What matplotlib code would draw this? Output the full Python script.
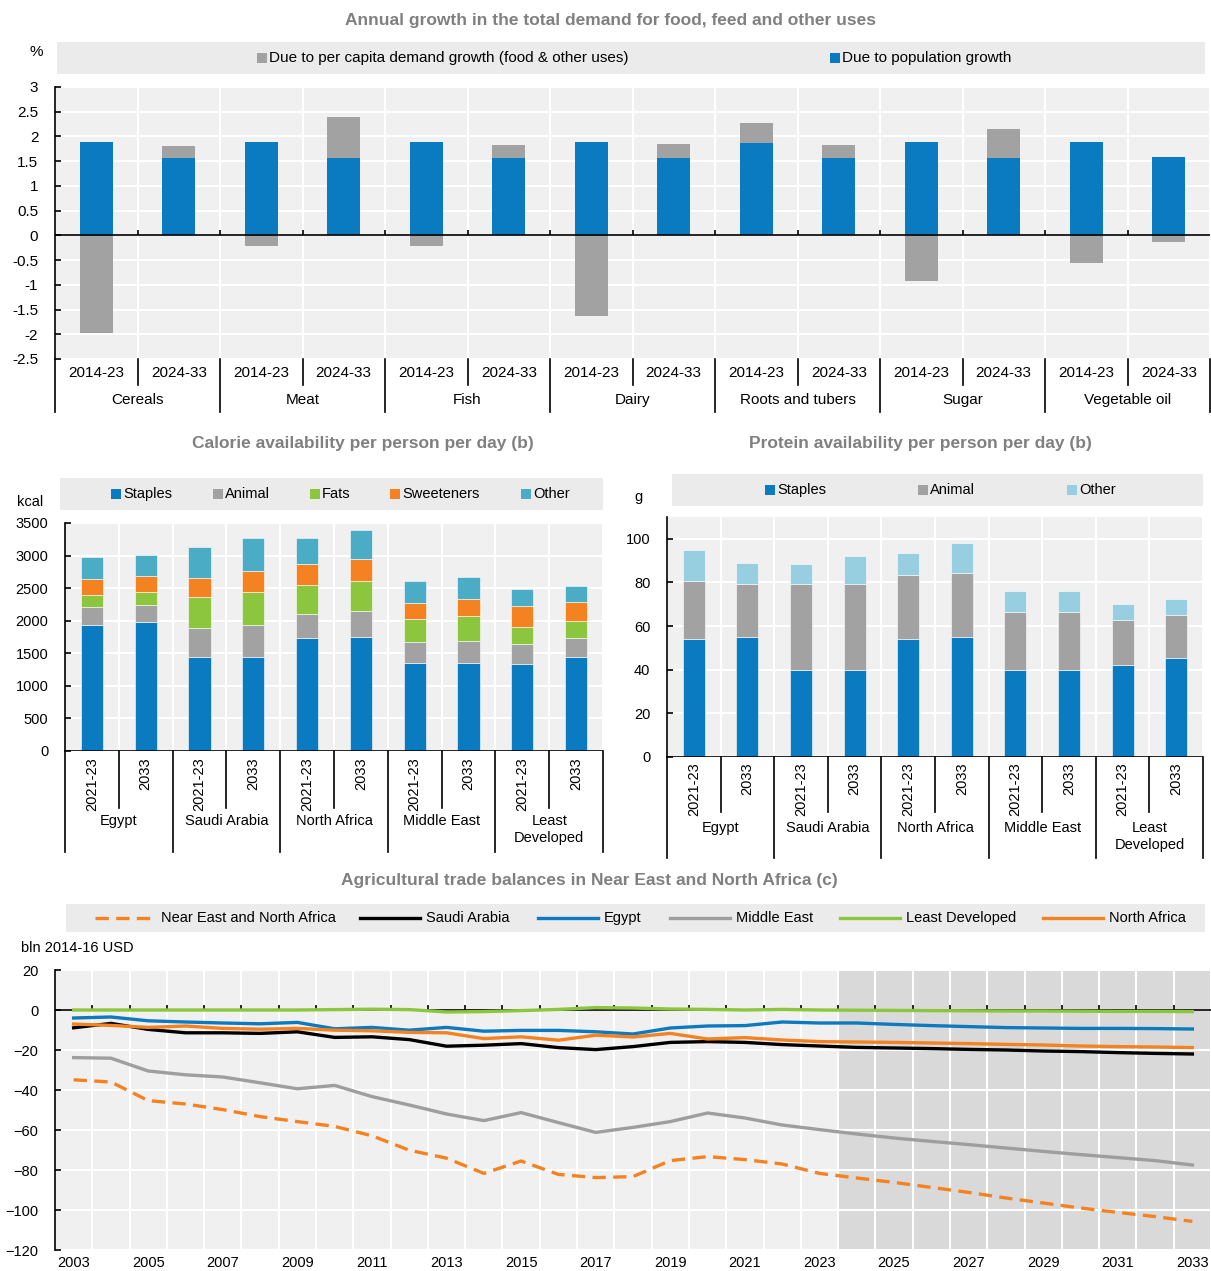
import matplotlib.pyplot as plt
from matplotlib.patches import Rectangle
from matplotlib.lines import Line2D
import numpy as np

plt.rcParams['font.family'] = ['Liberation Sans', 'DejaVu Sans']

W, H = 1211, 1271

BLUE = '#0a7bc1'
GREY = '#a2a2a2'
GREEN = '#8cc63f'
ORANGE = '#f58220'
TEAL = '#4bacc6'
LIGHTBLUE = '#97cfe0'
BG = '#f0f0f0'
BOXBG = '#ebebeb'
TITLE_C = '#808080'

# --- annual demand growth (%), two periods per commodity
products = ['Cereals', 'Meat', 'Fish', 'Dairy', 'Roots and tubers', 'Sugar', 'Vegetable oil']
periods = ['2014-23', '2024-33']
growth_series = ['Due to per capita demand growth (food & other uses)', 'Due to population growth']
pop_growth = [1.88, 1.57, 1.88, 1.57, 1.88, 1.57, 1.88, 1.57, 1.87, 1.57, 1.88, 1.57, 1.88, 1.59]
per_capita = [-1.97, 0.24, -0.21, 0.82, -0.21, 0.26, -1.64, 0.27, 0.41, 0.25, -0.92, 0.58, -0.56, -0.14]

# --- calorie / protein availability
regions = ['Egypt', 'Saudi Arabia', 'North Africa', 'Middle East', 'Least\nDeveloped']
years = ['2021-23', '2033']
cal_groups = ['Staples', 'Animal', 'Fats', 'Sweeteners', 'Other']
cal_staples = [1935, 1981, 1442, 1442, 1729, 1750, 1345, 1350, 1329, 1442]
cal_animal = [272, 267, 452, 488, 380, 405, 323, 338, 318, 287]
cal_fats = [184, 190, 467, 508, 442, 452, 364, 380, 257, 262]
cal_sweet = [247, 256, 302, 323, 318, 339, 247, 272, 328, 298]
cal_other = [339, 308, 467, 508, 400, 451, 328, 329, 257, 246]

prot_groups = ['Staples', 'Animal', 'Other']
prot_staples = [53.9, 55.0, 39.8, 39.8, 53.9, 55.0, 39.8, 39.8, 42.1, 45.5]
prot_animal = [26.6, 24.5, 39.3, 39.7, 29.3, 29.3, 26.5, 26.5, 20.5, 19.7]
prot_other = [14.5, 9.5, 9.3, 12.4, 10.5, 13.6, 9.7, 9.7, 7.6, 7.0]

# --- agricultural trade balances, bln 2014-16 USD
trade_years = list(range(2003, 2034))
nena = [-34.9, -36.0, -45.3, -47.0, -49.8, -53.3, -55.8, -58.2, -62.9, -70.1, -74.1,
        -81.7, -75.5, -82.2, -83.8, -83.3, -75.3, -73.3, -74.8, -77.0, -81.7, -84.0,
        -86.2, -88.7, -91.2, -94.0, -96.5, -99.0, -101.2, -103.3, -105.7]
saudi = [-8.9, -6.7, -9.7, -11.4, -11.4, -11.7, -10.9, -13.7, -13.4, -14.8, -18.1,
         -17.6, -16.8, -18.8, -19.8, -18.3, -16.2, -15.8, -16.2, -17.3, -18.0, -18.7,
         -19.0, -19.3, -19.7, -20.0, -20.5, -20.8, -21.3, -21.7, -22.0]
egypt = [-4.0, -3.5, -5.4, -6.0, -6.5, -6.9, -6.2, -9.4, -8.7, -10.1, -8.7,
         -10.6, -10.2, -10.2, -10.9, -12.0, -9.0, -8.0, -7.8, -6.0, -6.5, -6.5,
         -7.2, -7.8, -8.3, -8.8, -9.0, -9.2, -9.2, -9.3, -9.5]
mideast = [-23.8, -24.1, -30.5, -32.4, -33.5, -36.4, -39.4, -37.7, -43.3, -47.5, -52.0,
           -55.3, -51.3, -56.3, -61.2, -58.7, -55.8, -51.5, -54.0, -57.5, -59.8, -62.0,
           -64.0, -65.7, -67.3, -69.0, -70.7, -72.3, -73.8, -75.3, -77.5]
least_dev = [0.0, 0.0, 0.0, 0.0, 0.0, 0.0, 0.0, 0.2, 0.4, 0.2, -1.0,
             -0.8, -0.3, 0.3, 1.2, 1.0, 0.5, 0.3, 0.0, 0.3, 0.0, -0.1,
             -0.2, -0.3, -0.4, -0.5, -0.5, -0.6, -0.7, -0.7, -0.8]
north_africa = [-7.0, -7.7, -8.7, -8.0, -9.2, -9.6, -9.2, -10.1, -10.4, -11.2, -11.4,
                -14.3, -13.4, -15.1, -12.6, -13.5, -11.7, -14.5, -13.8, -15.0, -15.8, -16.0,
                -16.2, -16.5, -16.8, -17.2, -17.5, -18.0, -18.3, -18.5, -18.8]
trade_names = ['Near East and North Africa', 'Saudi Arabia', 'Egypt', 'Middle East',
               'Least Developed', 'North Africa']

FS = 10.5      # general text size
TITLE_FS = 12.5


def fx(x):
    return x / W


def fy(y):
    return 1 - y / H


def px_axes(fig, x0, y0, x1, y1):
    return fig.add_axes([fx(x0), fy(y1), fx(x1) - fx(x0), fy(y0) - fy(y1)])


def style_axes(ax):
    ax.set_facecolor(BG)
    for s in ['top', 'right', 'bottom']:
        ax.spines[s].set_visible(False)
    ax.spines['left'].set_linewidth(1.2)
    ax.grid(True, color='white', linewidth=1.5)
    ax.set_axisbelow(True)
    ax.tick_params(axis='y', direction='in', length=4, width=1.2, labelsize=FS, pad=12)
    ax.tick_params(axis='x', length=0, labelbottom=False)


def zero_ticks(ax, positions, length):
    # small marks sitting on the zero line at the category boundaries
    ax.vlines(positions, 0, length, color='black', linewidth=1.2, zorder=3)


def legend_box(fig, x0, y0, x1, y1):
    fig.patches.append(Rectangle((fx(x0), fy(y1)), fx(x1) - fx(x0), fy(y0) - fy(y1),
                                 transform=fig.transFigure, facecolor=BOXBG,
                                 edgecolor='none', zorder=0))


def legend_square(fig, x, y, color, label, fs=FS):
    fig.patches.append(Rectangle((fx(x), fy(y + 5)), fx(10), 10 / H,
                                 transform=fig.transFigure, facecolor=color,
                                 edgecolor='none'))
    fig.text(fx(x + 12), fy(y), label, fontsize=fs, va='center', ha='left')


def category_labels(ax, n_groups, inner, groups, h_px, inner_rot=0, inner_y=10,
                    sep_inner=26, sep_outer=53, group_y=41, fs=FS):
    tr = ax.get_xaxis_transform()
    n = n_groups * len(inner)
    for i in range(n):
        ax.text(i, -inner_y / h_px, inner[i % len(inner)], transform=tr,
                ha='center', va='top', rotation=inner_rot, fontsize=fs)
    for b in range(n + 1):
        depth = sep_outer if b % len(inner) == 0 else sep_inner
        ax.add_line(Line2D([b - 0.5, b - 0.5], [0, -depth / h_px], transform=tr,
                           color='black', linewidth=1.2, clip_on=False))
    for g in range(n_groups):
        c = g * len(inner) + (len(inner) - 1) / 2
        ax.text(c, -group_y / h_px, groups[g], transform=tr, ha='center', va='top',
                fontsize=fs, linespacing=1.3)


fig = plt.figure(figsize=(W / 100, H / 100), dpi=100)

# ================= top: demand growth =================
ax1 = px_axes(fig, 55, 87, 1210, 359)
style_axes(ax1)
ax1.tick_params(axis='y', labelsize=11)
n1 = len(pop_growth)
x1 = np.arange(n1)
pc = np.array(per_capita)
pop = np.array(pop_growth)
pc_bottom = np.where(pc > 0, pop, 0)
ax1.bar(x1, pop, width=0.4, color=BLUE, zorder=2)
ax1.bar(x1, pc, bottom=pc_bottom, width=0.4, color=GREY, zorder=2)
ax1.set_xlim(-0.5, n1 - 0.5)
ax1.set_ylim(-2.5, 3)
ax1.set_yticks(np.arange(-2.5, 3.01, 0.5))
ax1.set_yticklabels([f'{v:g}' for v in np.arange(-2.5, 3.01, 0.5)])
ax1.set_xticks(np.arange(n1 + 1) - 0.5)
ax1.axhline(0, color='black', linewidth=1.2, zorder=3)
zero_ticks(ax1, np.arange(1, n1) - 0.5, 0.1)
category_labels(ax1, len(products), periods, products, 272, inner_y=7,
                sep_inner=26, sep_outer=53, group_y=34, fs=11)
fig.text(fx(610), fy(20), 'Annual growth in the total demand for food, feed and other uses',
         ha='center', va='center', fontsize=TITLE_FS, fontweight='bold', color=TITLE_C)
legend_box(fig, 57, 42, 1205, 74)
legend_square(fig, 257, 58, GREY, growth_series[0], fs=11)
legend_square(fig, 830, 58, BLUE, growth_series[1], fs=11)
fig.text(fx(29), fy(52), '%', fontsize=11, va='center')

# ================= middle left: calories =================
ax2 = px_axes(fig, 65, 523, 603, 751)
style_axes(ax2)
x2 = np.arange(len(cal_staples))
bottom = np.zeros(len(x2))
for vals, col in zip([cal_staples, cal_animal, cal_fats, cal_sweet, cal_other],
                     [BLUE, GREY, GREEN, ORANGE, TEAL]):
    ax2.bar(x2, vals, bottom=bottom, width=0.41, color=col, zorder=2,
            edgecolor='white', linewidth=0.4)
    bottom += np.array(vals)
ax2.set_xlim(-0.5, len(x2) - 0.5)
ax2.set_ylim(0, 3500)
ax2.set_yticks(np.arange(0, 3501, 500))
ax2.set_xticks(np.arange(len(x2) + 1) - 0.5)
ax2.axhline(0, color='black', linewidth=1.2, zorder=3)
category_labels(ax2, len(regions), years, regions, 228, inner_rot=90, inner_y=6,
                sep_inner=57, sep_outer=101, group_y=63)
fig.text(fx(363), fy(443), 'Calorie availability per person per day (b)',
         ha='center', va='center', fontsize=TITLE_FS, fontweight='bold', color=TITLE_C)
legend_box(fig, 60, 478, 603, 510)
for lx, col, lab in zip([111, 213, 310, 390, 521], [BLUE, GREY, GREEN, ORANGE, TEAL], cal_groups):
    legend_square(fig, lx, 494, col, lab)
fig.text(fx(17), fy(502), 'kcal', fontsize=FS, va='center')

# ================= middle right: protein =================
ax3 = px_axes(fig, 667, 517, 1203, 757)
style_axes(ax3)
x3 = np.arange(len(prot_staples))
bottom = np.zeros(len(x3))
for vals, col in zip([prot_staples, prot_animal, prot_other], [BLUE, GREY, LIGHTBLUE]):
    ax3.bar(x3, vals, bottom=bottom, width=0.41, color=col, zorder=2,
            edgecolor='white', linewidth=0.4)
    bottom += np.array(vals)
ax3.set_xlim(-0.5, len(x3) - 0.5)
ax3.set_ylim(0, 110)
ax3.set_yticks(np.arange(0, 101, 20))
ax3.set_xticks(np.arange(len(x3) + 1) - 0.5)
ax3.axhline(0, color='black', linewidth=1.2, zorder=3)
category_labels(ax3, len(regions), years, regions, 240, inner_rot=90, inner_y=5,
                sep_inner=55, sep_outer=101, group_y=64)
fig.text(fx(920), fy(443), 'Protein availability per person per day (b)',
         ha='center', va='center', fontsize=TITLE_FS, fontweight='bold', color=TITLE_C)
legend_box(fig, 672, 474, 1203, 506)
for lx, col, lab in zip([765, 918, 1067], [BLUE, GREY, LIGHTBLUE], prot_groups):
    legend_square(fig, lx, 490, col, lab)
fig.text(fx(634), fy(497), 'g', fontsize=FS, va='center')

# ================= bottom: trade balances =================
ax4 = px_axes(fig, 55, 970, 1211, 1250)
style_axes(ax4)
ax4.set_xlim(2002.5, 2033.5)
ax4.set_ylim(-120, 20)
ax4.set_yticks(np.arange(-120, 21, 20))
ax4.set_xticks(np.arange(2003, 2034) + 0.5)
ax4.axvspan(2023.5, 2033.5, color='#d9d9d9', zorder=0, linewidth=0)
ax4.axhline(0, color='black', linewidth=1.2, zorder=1)
zero_ticks(ax4, np.arange(2003, 2033) + 0.5, 2.5)
for yr in range(2003, 2034, 2):
    ax4.text(yr, -6 / 280, str(yr), transform=ax4.get_xaxis_transform(),
             ha='center', va='top', fontsize=FS)

series = [nena, saudi, egypt, mideast, least_dev, north_africa]
colors = [ORANGE, 'black', '#0d7ac0', '#9e9e9e', GREEN, ORANGE]
styles = [(0, (4, 2.2)), '-', '-', '-', '-', '-']
for vals, col, ls in zip(series, colors, styles):
    ax4.plot(trade_years, vals, color=col, linestyle=ls, linewidth=2.4, zorder=3)

fig.text(fx(589), fy(881), 'Agricultural trade balances in Near East and North Africa (c)',
         ha='center', va='center', fontsize=TITLE_FS, fontweight='bold', color=TITLE_C)
legend_box(fig, 66, 904, 1205, 932)
leg_x = [95, 360, 538, 670, 840, 1043]
for lx, col, ls, lab in zip(leg_x, colors, styles, trade_names):
    fig.add_artist(Line2D([fx(lx), fx(lx + 60)], [fy(918), fy(918)], transform=fig.transFigure,
                          color=col, linestyle=ls, linewidth=2.4))
    fig.text(fx(lx + 66), fy(918), lab, fontsize=FS, va='center', ha='left')
fig.text(fx(21), fy(948), 'bln 2014-16 USD', fontsize=FS, va='center')

fig.savefig('out.png', dpi=100)
